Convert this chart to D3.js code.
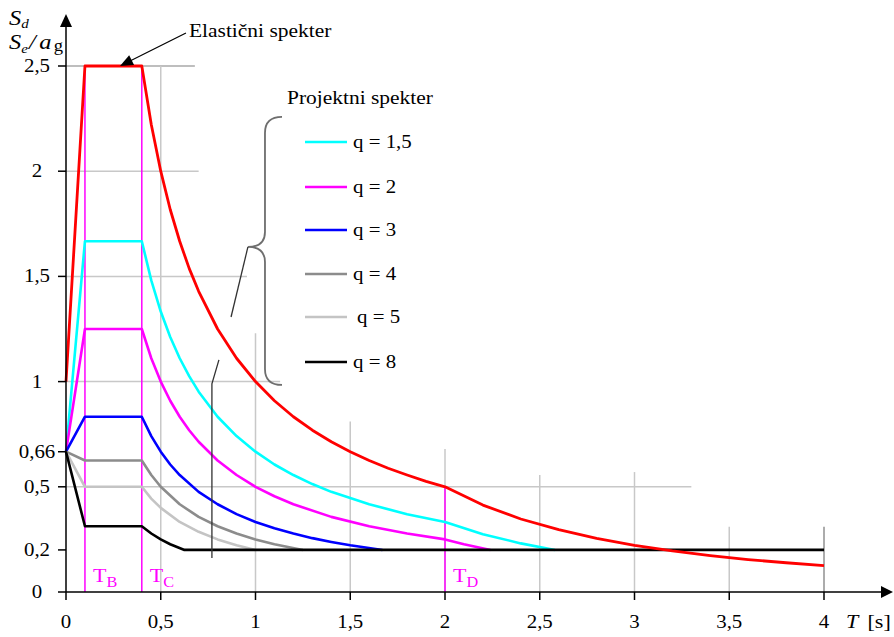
<!DOCTYPE html>
<html>
<head>
<meta charset="utf-8">
<script src="https://cdn.jsdelivr.net/npm/d3@7"></script>
<style>
  html, body { margin: 0; padding: 0; background: #fff; }
  svg { display: block; }
  text { font-family: "Liberation Serif", "Times New Roman", serif; }
</style>
</head>
<body>
<svg id="chart" width="894" height="637"></svg>
<script>
// ---------- DATA ----------
const xTicks = [0, 0.5, 1, 1.5, 2, 2.5, 3, 3.5, 4];
const xTickLabels = ["0", "0,5", "1", "1,5", "2", "2,5", "3", "3,5", "4"];
const yTicks = [0, 0.2, 0.5, 0.6667, 1, 1.5, 2, 2.5];
const yTickLabels = ["0", "0,2", "0,5", "0,66", "1", "1,5", "2", "2,5"];

const cornerPeriods = [0.1, 0.4, 2.0];
const cornerLabels = ["B", "C", "D"];

// Elastic spectrum Se/ag
const elasticT  = [0, 0.1, 0.4, 0.45, 0.5, 0.55, 0.6, 0.65, 0.7, 0.8, 0.9, 1.0, 1.1, 1.2, 1.3, 1.4, 1.5, 1.6, 1.7, 1.8, 1.9, 2.0, 2.2, 2.4, 2.6, 2.8, 3.0, 3.2, 3.4, 3.6, 3.8, 4.0];
const elasticSe = [1.0, 2.5, 2.5, 2.222, 2.0, 1.818, 1.667, 1.538, 1.429, 1.25, 1.111, 1.0, 0.909, 0.833, 0.769, 0.714, 0.667, 0.625, 0.588, 0.556, 0.526, 0.5, 0.413, 0.347, 0.296, 0.255, 0.222, 0.195, 0.173, 0.154, 0.139, 0.125];

// Design spectra Sd
const q15T = [0, 0.1, 0.4, 0.45, 0.5, 0.55, 0.6, 0.65, 0.7, 0.8, 0.9, 1.0, 1.1, 1.2, 1.3, 1.4, 1.6, 1.8, 2.0, 2.2, 2.4, 2.58];
const q15S = [0.667, 1.667, 1.667, 1.481, 1.333, 1.212, 1.111, 1.026, 0.952, 0.833, 0.741, 0.667, 0.606, 0.556, 0.513, 0.476, 0.417, 0.370, 0.333, 0.275, 0.231, 0.2];
const q2T  = [0, 0.1, 0.4, 0.45, 0.5, 0.55, 0.6, 0.65, 0.7, 0.8, 0.9, 1.0, 1.1, 1.2, 1.4, 1.6, 1.8, 2.0, 2.1, 2.24];
const q2S  = [0.667, 1.25, 1.25, 1.111, 1.0, 0.909, 0.833, 0.769, 0.714, 0.625, 0.556, 0.5, 0.455, 0.417, 0.357, 0.3125, 0.278, 0.25, 0.227, 0.2];
const q3T  = [0, 0.1, 0.4, 0.45, 0.5, 0.55, 0.6, 0.7, 0.8, 0.9, 1.0, 1.1, 1.2, 1.3, 1.4, 1.5, 1.67];
const q3S  = [0.667, 0.833, 0.833, 0.741, 0.667, 0.606, 0.556, 0.476, 0.417, 0.370, 0.333, 0.303, 0.278, 0.256, 0.238, 0.222, 0.2];
const q4T  = [0, 0.1, 0.4, 0.45, 0.5, 0.6, 0.7, 0.8, 0.9, 1.0, 1.1, 1.25];
const q4S  = [0.667, 0.625, 0.625, 0.556, 0.5, 0.417, 0.357, 0.3125, 0.278, 0.25, 0.227, 0.2];
const q5T  = [0, 0.1, 0.4, 0.45, 0.5, 0.6, 0.7, 0.8, 0.9, 1.0];
const q5S  = [0.667, 0.5, 0.5, 0.444, 0.4, 0.333, 0.286, 0.25, 0.222, 0.2];
const q8T  = [0, 0.1, 0.4, 0.45, 0.5, 0.55, 0.625, 4.0];
const q8S  = [0.667, 0.3125, 0.3125, 0.278, 0.25, 0.227, 0.2, 0.2];

const designNames  = ["q = 1,5", "q = 2", "q = 3", "q = 4", "q = 5", "q = 8"];
const designColors = ["#00ffff", "#ff00ff", "#0000ff", "#8c8c8c", "#c4c4c4", "#000000"];
const designT = [q15T, q2T, q3T, q4T, q5T, q8T];
const designS = [q15S, q2S, q3S, q4S, q5S, q8S];

// ---------- LAYOUT ----------
const SX = 1.16; // horizontal text stretch of the reference
const svg = d3.select("#chart");
svg.append("rect").attr("width", 894).attr("height", 637).attr("fill", "#fff");

const x = d3.scaleLinear().domain([0, 4]).range([66, 824]);
const y = d3.scaleLinear().domain([0, 2.5]).range([592, 66]);

function txt(sel, px, py, str, opt = {}) {
  const t = sel.append("text")
    .attr("transform", `translate(${px},${py}) scale(${SX},1)`)
    .attr("text-anchor", opt.anchor || "start")
    .attr("font-size", opt.size || 18)
    .attr("fill", opt.color || "#000");
  if (opt.italic) t.attr("font-style", "italic");
  if (str !== null) t.text(str);
  return t;
}

// ---------- GRID ----------
const hGrid = [[2.5, 0.68, "#a8a8a8"], [2, 0.70, "#c8c8c8"], [1.5, 0.955, "#c8c8c8"], [1, 1.13, "#c8c8c8"], [0.5, 3.30, "#c8c8c8"]];
const vGrid = [[0.5, 2.5, "#c8c8c8"], [1, 1.23, "#c8c8c8"], [1.5, 0.81, "#c8c8c8"], [2, 0.68, "#c8c8c8"], [2.5, 0.556, "#c8c8c8"], [3, 0.57, "#c8c8c8"], [3.5, 0.31, "#c8c8c8"], [4, 0.31, "#909090"]];
const grid = svg.append("g");
hGrid.forEach(([v, t1, c]) => grid.append("line")
  .attr("x1", x(0)).attr("x2", x(t1)).attr("y1", y(v)).attr("y2", y(v))
  .attr("stroke", c).attr("stroke-width", 1.5));
vGrid.forEach(([t, v1, c]) => grid.append("line")
  .attr("x1", x(t)).attr("x2", x(t)).attr("y1", y(0)).attr("y2", y(v1))
  .attr("stroke", c).attr("stroke-width", 1.5));

// ---------- CORNER PERIOD LINES ----------
const cornerTop = [2.5, 2.5, 0.5];
cornerPeriods.forEach((t, i) => {
  svg.append("line").attr("x1", x(t)).attr("x2", x(t)).attr("y1", y(0)).attr("y2", y(cornerTop[i]))
    .attr("stroke", "#ff00ff").attr("stroke-width", 1.5);
  const lt = txt(svg, x(t) + 8, 582, null, { color: "#ff00ff", size: 19 });
  lt.append("tspan").text("T");
  lt.append("tspan").attr("font-size", 14).attr("dy", 5).text(cornerLabels[i]);
});

// ---------- CURVES ----------
const line = d3.line().x(d => x(d[0])).y(d => y(d[1]));
designT.forEach((ts, i) => {
  const pts = ts.map((t, j) => [t, designS[i][j]]);
  svg.append("path").attr("d", line(pts)).attr("fill", "none")
    .attr("stroke", designColors[i]).attr("stroke-width", 2.6).attr("stroke-linejoin", "round");
});
svg.append("path").attr("d", line(elasticT.map((t, j) => [t, elasticSe[j]])))
  .attr("fill", "none").attr("stroke", "#ff0000").attr("stroke-width", 2.8).attr("stroke-linejoin", "round");

// ---------- AXES ----------
const ax = svg.append("g");
ax.append("line").attr("x1", x(0)).attr("x2", 884).attr("y1", y(0)).attr("y2", y(0)).attr("stroke", "#000").attr("stroke-width", 1.5);
ax.append("path").attr("d", `M893,${y(0)} L881,${y(0) - 6} L881,${y(0) + 6} Z`).attr("fill", "#000");
ax.append("line").attr("x1", x(0)).attr("x2", x(0)).attr("y1", y(0)).attr("y2", 24).attr("stroke", "#000").attr("stroke-width", 1.5);
ax.append("path").attr("d", `M${x(0)},14 L${x(0) - 6},27 L${x(0) + 6},27 Z`).attr("fill", "#000");

xTicks.forEach((t, i) => {
  ax.append("line").attr("x1", x(t)).attr("x2", x(t)).attr("y1", y(0)).attr("y2", y(0) + 8).attr("stroke", "#000").attr("stroke-width", 1.5);
  txt(ax, x(t), 628, xTickLabels[i], { anchor: "middle" });
});
yTicks.forEach((v, i) => {
  ax.append("line").attr("x1", x(0) - 8).attr("x2", x(0)).attr("y1", y(v)).attr("y2", y(v)).attr("stroke", "#000").attr("stroke-width", 1.5);
  txt(ax, 37, y(v) + 6, yTickLabels[i], { anchor: "middle" });
});

// axis titles
const yl1 = txt(svg, 9, 25, null, { size: 21, italic: true });
yl1.append("tspan").text("S");
yl1.append("tspan").attr("font-size", 13).attr("dy", 3).text("d");
const yl2 = txt(svg, 9, 49, null, { size: 21, italic: true });
yl2.append("tspan").text("S");
yl2.append("tspan").attr("font-size", 13).attr("dy", 4).text("e");
yl2.append("tspan").attr("dy", -4).attr("dx", 1).text("/");
yl2.append("tspan").attr("dx", 3).text("a");
yl2.append("tspan").attr("font-size", 16).attr("dx", 2).attr("dy", 2).attr("font-style", "normal").text("g");

const xl = txt(svg, 846, 628, null, { size: 19 });
xl.append("tspan").attr("font-style", "italic").text("T");
xl.append("tspan").attr("dx", 8).text("[s]");

// ---------- ANNOTATIONS ----------
// Elastic spectrum arrow
const arrTip = [x(0.285), y(2.5)];
const arrTail = [x(0.633), y(2.657)];
svg.append("line").attr("x1", arrTail[0]).attr("y1", arrTail[1]).attr("x2", arrTip[0] + 8).attr("y2", arrTip[1] - 4)
  .attr("stroke", "#000").attr("stroke-width", 1.2);
{
  const ang = Math.atan2(arrTip[1] - arrTail[1], arrTip[0] - arrTail[0]);
  const L = 13, W = 5.5;
  const bx = arrTip[0] - L * Math.cos(ang), by = arrTip[1] - L * Math.sin(ang);
  const px = -Math.sin(ang) * W, py = Math.cos(ang) * W;
  svg.append("path").attr("d", `M${arrTip[0]},${arrTip[1]} L${bx + px},${by + py} L${bx - px},${by - py} Z`).attr("fill", "#000");
}
txt(svg, 189, 37, "Elastični spekter", { size: 18.5 });
txt(svg, 287, 104, "Projektni spekter", { size: 18.5 });

// Brace
const brace = d3.path();
brace.moveTo(x(1.14), y(2.258));
brace.quadraticCurveTo(x(1.05), y(2.258), x(1.05), y(2.182));
brace.lineTo(x(1.05), y(1.711));
brace.quadraticCurveTo(x(1.05), y(1.64), x(0.96), y(1.64));
brace.quadraticCurveTo(x(1.05), y(1.64), x(1.05), y(1.568));
brace.lineTo(x(1.05), y(1.06));
brace.quadraticCurveTo(x(1.05), y(0.984), x(1.14), y(0.984));
svg.append("path").attr("d", brace.toString()).attr("fill", "none").attr("stroke", "#6e6e6e").attr("stroke-width", 1.8);

// leader lines
svg.append("line").attr("x1", x(0.96)).attr("y1", y(1.64)).attr("x2", x(0.871)).attr("y2", y(1.307))
  .attr("stroke", "#333").attr("stroke-width", 1.3);
svg.append("path").attr("d", `M${x(0.807)},${y(1.103)} L${x(0.770)},${y(0.989)} L${x(0.770)},${y(0.162)}`)
  .attr("fill", "none").attr("stroke", "#333").attr("stroke-width", 1.3);

// Legend
const legY = [142, 187, 230, 274, 317, 362];
designNames.forEach((n, i) => {
  svg.append("line").attr("x1", 305).attr("x2", 347).attr("y1", legY[i]).attr("y2", legY[i])
    .attr("stroke", designColors[i]).attr("stroke-width", 2.6);
  txt(svg, i === 4 ? 357 : 353, legY[i] + 6, n);
});
</script>
</body>
</html>
